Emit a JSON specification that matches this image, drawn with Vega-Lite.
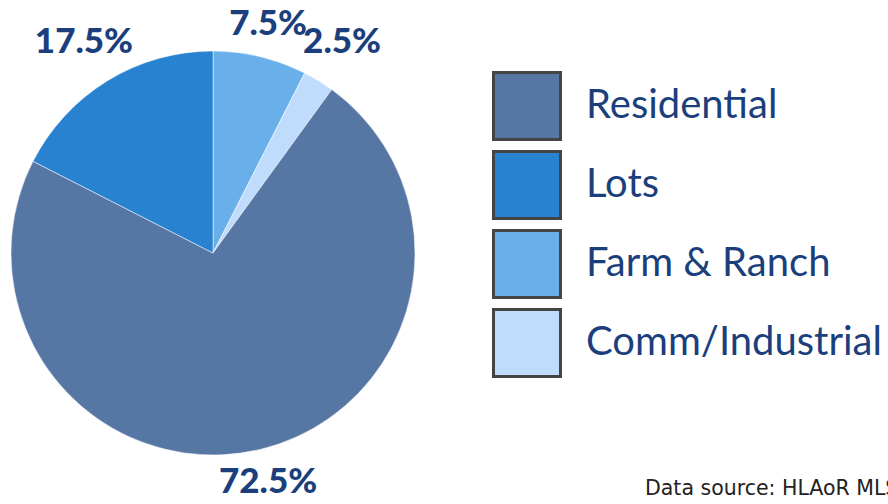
{
  "$schema": "https://vega.github.io/schema/vega-lite/v6.json",
  "width": 426,
  "height": 506,
  "autosize": {"type": "none"},
  "padding": {"left": 0, "top": 0, "right": 462, "bottom": 0},
  "background": "white",
  "config": {"view": {"stroke": null}},
  "title": {
    "text": "Data source: HLAoR MLS",
    "orient": "bottom",
    "anchor": "start",
    "frame": "group",
    "dx": 645,
    "offset": -16,
    "baseline": "alphabetic",
    "fontSize": 20.5,
    "font": "DejaVu Sans",
    "fontWeight": "normal",
    "color": "#222222"
  },
  "data": {
    "values": [
      {"category": "Farm & Ranch", "share": 7.5, "label": "7.5%", "rank": 1},
      {"category": "Comm/Industrial", "share": 2.5, "label": "2.5%", "rank": 2},
      {"category": "Residential", "share": 72.5, "label": "72.5%", "rank": 3},
      {"category": "Lots", "share": 17.5, "label": "17.5%", "rank": 4}
    ]
  },
  "encoding": {
    "theta": {"field": "share", "type": "quantitative", "stack": true},
    "order": {"field": "rank", "type": "quantitative"}
  },
  "layer": [
    {
      "mark": {"type": "arc", "outerRadius": 202, "stroke": "#ffffff", "strokeWidth": 0.5},
      "encoding": {
        "color": {
          "field": "category",
          "type": "nominal",
          "scale": {
            "domain": ["Residential", "Lots", "Farm & Ranch", "Comm/Industrial"],
            "range": ["#5676a4", "#2882cf", "#69b0eb", "#c0dcfd"]
          },
          "legend": {
            "title": null,
            "orient": "none",
            "legendX": 492,
            "legendY": 71,
            "padding": 0,
            "symbolType": "square",
            "symbolSize": 4489,
            "symbolStrokeColor": "#444444",
            "symbolStrokeWidth": 3,
            "symbolOpacity": 1,
            "rowPadding": -1,
            "labelOffset": 24,
            "labelFont": "Lato",
            "labelFontSize": 40,
            "labelColor": "#1b3f7c",
            "labelLimit": 400,
            "labelBaseline": "middle"
          }
        }
      }
    },
    {
      "mark": {"type": "text", "radius": 236, "font": "Lato", "fontSize": 35, "fontWeight": 900, "color": "#1b3f7c"},
      "encoding": {
        "text": {
          "condition": {"test": "datum.category === 'Farm & Ranch' || datum.category === 'Residential'", "field": "label"},
          "value": ""
        }
      }
    },
    {
      "mark": {"type": "text", "radius": 247, "font": "Lato", "fontSize": 35, "fontWeight": 900, "color": "#1b3f7c"},
      "encoding": {
        "text": {
          "condition": {"test": "datum.category === 'Comm/Industrial' || datum.category === 'Lots'", "field": "label"},
          "value": ""
        }
      }
    }
  ]
}
